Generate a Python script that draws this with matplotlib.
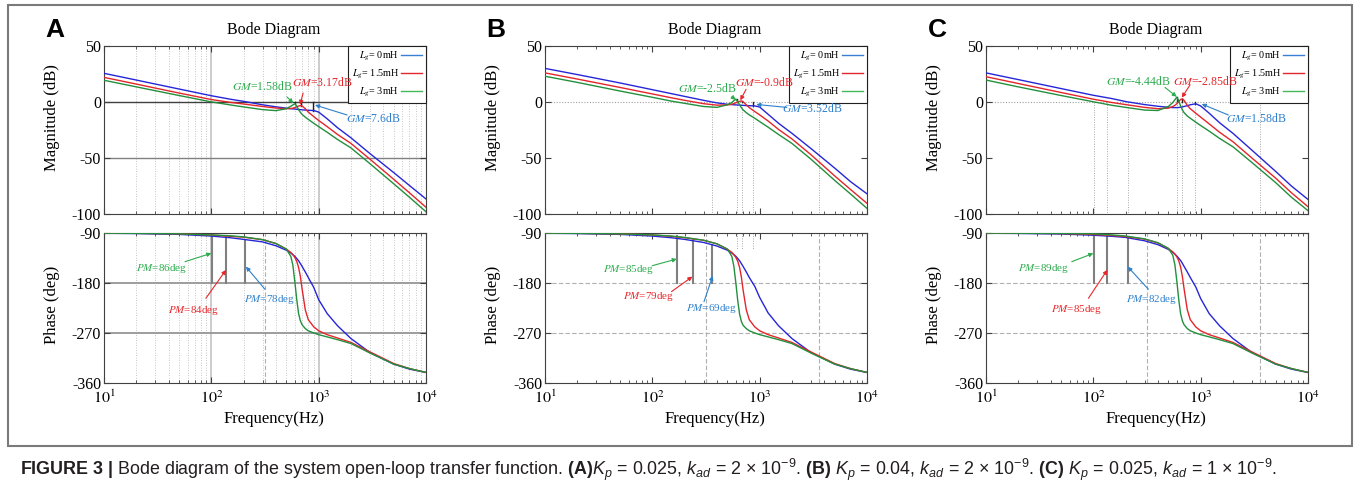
import matplotlib
matplotlib.use("Agg")
import matplotlib.pyplot as plt
from matplotlib.lines import Line2D
from matplotlib.patches import Rectangle
from matplotlib.font_manager import FontProperties

plt.rcParams["font.family"] = ["Liberation Serif", "DejaVu Serif"]
plt.rcParams["mathtext.fontset"] = "stix"
plt.rcParams["mathtext.rm"] = "Liberation Sans"
plt.rcParams["mathtext.it"] = "Liberation Sans:italic"
plt.rcParams["mathtext.bf"] = "Liberation Sans:bold"

# ---- data ----------------------------------------------------------------
series_labels = [r"$L_g$= 0mH", r"$L_g$= 1.5mH", r"$L_g$= 3mH"]

freq = [10, 20, 50, 100, 150, 200, 300, 400, 500, 550, 575, 600, 625, 650,
        675, 700, 750, 800, 900, 1000, 1200, 1500, 2000, 3000, 5000, 7000, 10000]

# panel A: Kp = 0.025, kad = 2e-9
mag_A_0 = [25.6, 19.6, 11.6, 5.6, 2.5, 0.6, -2.5, -4.3, -5.5, -6.0, -6.1, -6.3, -6.5, -6.7,
           -6.8, -7.0, -7.2, -7.4, -7.6, -9.0, -15.0, -23.0, -32.0, -46.0, -63.0, -74.5, -86.6]
mag_A_15 = [22.0, 16.0, 8.0, 2.2, -0.3, -1.8, -4.0, -5.4, -6.0, -5.8, -5.5, -5.0, -4.3, -3.6,
            -3.2, -3.5, -6.0, -9.0, -13.0, -16.5, -22.0, -29.0, -37.0, -51.0, -69.0, -81.0, -94.0]
mag_A_3 = [19.4, 13.5, 5.8, 0.1, -2.6, -4.4, -6.8, -7.7, -6.0, -3.8, -2.6, -1.6, -3.8, -6.8,
           -9.2, -11.0, -13.5, -15.5, -19.0, -22.0, -27.0, -33.5, -41.0, -55.0, -73.0, -85.0, -98.0]
ph_A_0 = [-90.5, -91.0, -92.5, -95.5, -98.5, -101.5, -106.0, -113.0, -121.0, -126.0, -129.0, -132.0, -136.0, -140.0,
          -145.0, -150.0, -160.0, -170.0, -188.0, -210.0, -235.0, -257.0, -280.0, -305.0, -326.0, -335.0, -341.0]
ph_A_15 = [-90.3, -90.6, -91.5, -93.5, -96.0, -97.5, -102.0, -109.0, -119.0, -125.0, -129.0, -134.0, -141.0, -152.0,
           -168.0, -190.0, -228.0, -246.0, -259.0, -266.0, -273.0, -279.0, -287.0, -304.0, -325.0, -334.0, -341.0]
ph_A_3 = [-90.3, -90.6, -91.5, -93.5, -95.0, -97.0, -102.0, -109.0, -119.0, -132.0, -148.0, -178.0, -210.0, -235.0,
          -248.0, -255.0, -262.0, -266.0, -270.0, -273.0, -277.0, -282.0, -289.0, -306.0, -326.0, -334.0, -341.0]

# panel B: Kp = 0.04, kad = 2e-9
mag_B_0 = [30.0, 24.5, 17.0, 11.0, 7.5, 5.0, 1.5, -0.8, -2.0, -2.3, -2.5, -2.6, -2.7, -2.8,
           -2.9, -3.0, -3.2, -3.3, -3.5, -4.5, -11.0, -19.0, -28.0, -41.5, -59.0, -71.0, -82.0]
mag_B_15 = [26.0, 20.5, 13.0, 7.2, 3.8, 1.5, -1.5, -2.8, -2.6, -2.0, -1.4, -0.7, 0.0, 0.6,
            0.9, 0.3, -2.5, -5.0, -8.5, -11.5, -17.0, -24.5, -33.0, -47.0, -66.0, -78.0, -90.5]
mag_B_3 = [23.0, 17.5, 9.8, 4.2, 0.8, -1.2, -4.0, -4.8, -2.5, -0.5, 1.2, 2.5, 0.5, -2.5,
           -5.0, -7.0, -9.5, -11.5, -14.5, -17.5, -22.5, -29.0, -37.0, -51.0, -70.0, -82.0, -95.0]
ph_B_0 = [-90.5, -91.0, -92.5, -95.5, -98.5, -101.5, -107.0, -113.5, -121.0, -126.0, -129.0, -132.0, -136.0, -140.0,
          -145.0, -150.0, -160.0, -170.0, -186.0, -206.0, -234.0, -257.0, -280.0, -305.0, -326.0, -335.0, -341.0]
ph_B_15 = [-90.3, -90.6, -91.5, -93.5, -96.0, -98.5, -103.0, -109.5, -119.0, -125.0, -129.0, -134.0, -141.0, -152.0,
           -169.0, -192.0, -228.0, -246.0, -259.0, -266.0, -273.0, -279.0, -287.0, -304.0, -325.0, -334.0, -341.0]
ph_B_3 = [-90.3, -90.6, -91.5, -93.5, -95.5, -98.0, -103.0, -109.5, -119.0, -132.0, -150.0, -180.0, -212.0, -236.0,
          -249.0, -256.0, -262.0, -266.0, -270.0, -273.0, -277.0, -282.0, -289.0, -306.0, -326.0, -334.0, -341.0]

# panel C: Kp = 0.025, kad = 1e-9
mag_C_0 = [26.0, 20.0, 12.0, 6.0, 3.0, 0.4, -2.3, -3.8, -4.7, -5.0, -5.0, -5.0, -4.9, -4.7,
           -4.4, -4.0, -3.3, -2.5, -1.6, -3.5, -10.0, -18.5, -28.0, -43.0, -62.0, -75.0, -87.0]
mag_C_15 = [22.6, 16.5, 8.5, 2.5, -0.5, -2.3, -4.8, -6.0, -5.5, -4.0, -3.0, -1.5, 0.5, 2.2,
            2.85, 1.5, -3.0, -6.0, -10.0, -13.5, -19.5, -27.0, -35.5, -50.0, -68.0, -81.0, -93.5]
mag_C_3 = [19.6, 13.5, 5.8, 0.2, -3.0, -4.8, -7.2, -7.6, -4.0, -0.5, 2.0, 4.4, 1.0, -3.5,
           -7.0, -9.5, -12.5, -14.5, -18.0, -21.0, -26.0, -32.5, -40.0, -54.0, -72.0, -85.0, -97.0]
ph_C_0 = [-90.4, -90.8, -91.8, -94.0, -96.0, -98.0, -104.0, -111.0, -119.5, -125.0, -128.0, -131.5, -135.5, -139.5,
          -144.5, -150.0, -160.0, -170.0, -187.0, -208.0, -235.0, -257.0, -280.0, -305.0, -326.0, -335.0, -341.0]
ph_C_15 = [-90.2, -90.4, -91.0, -92.5, -94.5, -96.5, -101.0, -108.0, -118.0, -124.0, -128.0, -133.0, -140.0, -151.0,
           -168.0, -190.0, -228.0, -246.0, -259.0, -266.0, -273.0, -279.0, -287.0, -304.0, -325.0, -334.0, -341.0]
ph_C_3 = [-90.2, -90.4, -90.8, -91.5, -93.5, -95.5, -100.5, -107.5, -117.5, -130.0, -147.0, -177.0, -210.0, -235.0,
          -248.0, -255.0, -262.0, -266.0, -270.0, -273.0, -277.0, -282.0, -289.0, -306.0, -326.0, -334.0, -341.0]

# stability margins (0mH, 1.5mH, 3mH) and where they sit on the frequency axis
gm_A = [7.6, 3.17, 1.58]
pm_A = [78, 84, 86]
wc_A = [207, 137, 102]      # gain crossover (Hz)
wp_A = [880, 690, 600]      # phase crossover (Hz)
gm_B = [3.52, -0.9, -2.5]
pm_B = [69, 79, 85]
wc_B = [360, 238, 169]
wp_B = [870, 680, 612]
gm_C = [1.58, -2.85, -4.44]
pm_C = [82, 85, 89]
wc_C = [209, 135, 102]
wp_C = [890, 665, 607]

mag_ticks = [-100, -50, 0, 50]
ph_ticks = [-360, -270, -180, -90]
freq_ticks = [10, 100, 1000, 10000]
freq_ticklabels = [r"$10^{1}$", r"$10^{2}$", r"$10^{3}$", r"$10^{4}$"]

caption = (r"$\mathbf{FIGURE\ 3\ |}$ Bode diagram of the system open-loop transfer function. "
           r"$\mathbf{(A)}K_p$ = 0.025, $k_{ad}$ = 2 × 10$^{-9}$. "
           r"$\mathbf{(B)}$ $K_p$ = 0.04, $k_{ad}$ = 2 × 10$^{-9}$. "
           r"$\mathbf{(C)}$ $K_p$ = 0.025, $k_{ad}$ = 1 × 10$^{-9}$.")

# ---- styling ---------------------------------------------------------------
curve_colors = ["#2626d9", "#e3262b", "#22903c"]
legend_colors = ["#3a7fd6", "#e3262b", "#45b85a"]
note_colors = ["#2f80cc", "#e8262a", "#2eac4e"]

W, H = 1356, 492
fig = plt.figure(figsize=(W / 100, H / 100), dpi=100)


def px_axes(x0, y0, x1, y1):
    """Axes from pixel box (top-left origin)."""
    return fig.add_axes([x0 / W, 1 - y1 / H, (x1 - x0) / W, (y1 - y0) / H])


def style_axes(ax, yticks, ylim, show_x):
    ax.set_xscale("log")
    ax.set_xlim(10, 10000)
    ax.set_ylim(*ylim)
    ax.set_yticks(yticks, labels=[str(t) for t in yticks])
    if show_x:
        ax.set_xticks(freq_ticks, labels=freq_ticklabels)
    else:
        ax.set_xticks(freq_ticks, labels=[])
    ax.tick_params(which="both", direction="in", top=True, right=True,
                   labelsize=11.5, color="#404040", pad=2)
    ax.tick_params(axis="x", pad=5)
    ax.tick_params(which="major", length=4)
    ax.tick_params(which="minor", length=2.5)
    for s in ax.spines.values():
        s.set_color("#404040")
        s.set_linewidth(0.8)


minor_freqs = [m * 10 ** d for d in (1, 2, 3) for m in range(2, 10)]


def draw_panel(x0, letter, mags, phases, gm, pm, wc, wp, gm_notes, pm_notes, full_grid,
               mag_vlines, ph_dashed, ph_short):
    ax_m = px_axes(x0, 46, x0 + 322, 214)
    ax_p = px_axes(x0, 233, x0 + 322, 383)
    style_axes(ax_m, mag_ticks, (-100, 50), False)
    style_axes(ax_p, ph_ticks, (-360, -90), True)

    # grid work, MATLAB style
    if full_grid:
        for ax in (ax_m, ax_p):
            for f in minor_freqs:
                ax.axvline(f, color="#b5b5b5", lw=0.6, ls=(0, (1, 2)), zorder=0)
            for f in (100, 1000):
                ax.axvline(f, color="#c4c4c4", lw=1.2, zorder=0)
        ax_m.axhline(0, color="#404040", lw=1.0, zorder=1)
        ax_m.axhline(-50, color="#808080", lw=1.0, zorder=1)
        ax_p.axhline(-180, color="#959595", lw=1.3, zorder=1)
        ax_p.axhline(-270, color="#959595", lw=1.3, zorder=1)
    else:
        ax_m.axhline(0, color="#a0a0a0", lw=0.8, ls=(0, (1, 1.5)), zorder=1)
        for f in mag_vlines:
            ax_m.plot([f, f], [0, -100], color="#a8a8a8", lw=0.7, ls=(0, (1, 1.5)), zorder=0)
        for v in (-180, -270):
            ax_p.axhline(v, color="#b0b0b0", lw=0.8, ls=(0, (4, 2)), zorder=0)
        for f in ph_short:
            ax_p.plot([f, f], [-90, -120], color="#a8a8a8", lw=0.7, ls=(0, (1, 1.5)), zorder=0)
    for f in ph_dashed:
        ax_p.axvline(f, color="#b0b0b0", lw=0.8, ls=(0, (4, 2)), zorder=0)

    for i in range(3):
        ax_m.plot(freq, mags[i], color=curve_colors[i], lw=1.0, zorder=3)
        ax_p.plot(freq, phases[i], color=curve_colors[i], lw=1.0, zorder=3)
        # margin markers
        ax_m.plot([wp[i], wp[i]], [0, -gm[i]], color="#202020", lw=1.0, zorder=2)
        ax_p.plot([wc[i], wc[i]], [-180, -180 + pm[i]], color="#808080", lw=1.5, zorder=2)

    for i, (txt, tail, head) in enumerate(gm_notes):
        ax_m.text(*txt, r"$GM$=" + str(gm[i]) + "dB", color=note_colors[i], fontsize=8.5,
                  ha="center", va="center", math_fontfamily="stix", zorder=7)
        ax_m.annotate("", xy=head, xytext=tail,
                      arrowprops=dict(arrowstyle="-|>", color=note_colors[i], lw=0.8,
                                      mutation_scale=6, shrinkA=0, shrinkB=0), zorder=7)
    for i, (txt, tail, head) in enumerate(pm_notes):
        ax_p.text(*txt, r"$PM$=" + str(pm[i]) + "deg", color=note_colors[i], fontsize=7.9,
                  ha="center", va="center", math_fontfamily="stix", zorder=7)
        ax_p.annotate("", xy=head, xytext=tail,
                      arrowprops=dict(arrowstyle="-|>", color=note_colors[i], lw=0.8,
                                      mutation_scale=6, shrinkA=0, shrinkB=0), zorder=7)

    handles = [Line2D([], [], color=c, lw=1.0) for c in legend_colors]
    leg = ax_m.legend(handles, series_labels, loc="upper right", markerfirst=False,
                      fancybox=False, edgecolor="#202020", framealpha=1, borderaxespad=0,
                      handlelength=2.1, handletextpad=0.2, labelspacing=0.5,
                      borderpad=0.35,
                      prop=FontProperties(family="Liberation Serif", size=7.3,
                                          math_fontfamily="stix"))
    leg.get_frame().set_linewidth(0.8)
    leg.set_zorder(6)

    cx = x0 + 161 + 9
    fig.text(cx / W, 1 - 30 / H, "Bode Diagram", ha="center", va="center", fontsize=11.5)
    fig.text((x0 - 49) / W, 1 - 30 / H, letter, ha="center", va="center", fontsize=19,
             family="Liberation Sans", weight="bold")
    fig.text((x0 - 52) / W, 1 - 118 / H, "Magnitude (dB)", rotation=90,
             ha="center", va="center", fontsize=12)
    fig.text((x0 - 52) / W, 1 - 305 / H, "Phase (deg)", rotation=90,
             ha="center", va="center", fontsize=12)
    fig.text(cx / W, 1 - 419 / H, "Frequency(Hz)", ha="center", va="center", fontsize=12)


draw_panel(104, "A", [mag_A_0, mag_A_15, mag_A_3], [ph_A_0, ph_A_15, ph_A_3],
           gm_A, pm_A, wc_A, wp_A,
           [((3240, -14.3), (1840, -11.6), (925, -2.7)),
            ((1087, 17.0), (716, 8.0), (671, -2.5)),
            ((302, 13.4), (507, 4.5), (580, -1.0))],
           [((345, -210.5), (316, -191.3), (210, -150.6)),
            ((68.5, -229.7), (89, -207.5), (137, -156.5)),
            ((34.5, -153.5), (56.9, -141.6), (100, -126.5))],
           True, [], [316], [])

draw_panel(545, "B", [mag_B_0, mag_B_15, mag_B_3], [ph_B_0, ph_B_15, ph_B_3],
           gm_B, pm_B, wc_B, wp_B,
           [((3100, -5.6), (1790, -4.8), (930, -2.2)),
            ((1097, 17.2), (747, 11.3), (660, 1.5)),
            ((325, 12.2), (550, 4.7), (599, 2.0))],
           [((355, -225.5), (303, -213.6), (365, -167.0)),
            ((92, -204.5), (151, -195.5), (236, -168.5)),
            ((59.7, -156.5), (100, -148.8), (169, -136.8))],
           False, [357, 612, 680, 870, 3580], [316, 3580], [612, 680, 870])

draw_panel(986, "C", [mag_C_0, mag_C_15, mag_C_3], [ph_C_0, ph_C_15, ph_C_3],
           gm_C, pm_C, wc_C, wp_C,
           [((3275, -14.6), (1810, -11.6), (1023, -1.8)),
            ((1100, 18.1), (795, 15.2), (667, 3.9)),
            ((265, 18.1), (466, 13.0), (598, 4.7))],
           [((350, -210.5), (326, -191.3), (209, -150.6)),
            ((69.1, -228.4), (90, -207.5), (135, -156.5)),
            ((34.2, -153.5), (63, -141.6), (100, -126.6))],
           False, [102, 135, 209, 607, 665, 890, 3580], [316, 3580], [])

# outer frame around the three panels
fig.add_artist(Rectangle((8 / W, 1 - 446 / H), 1344 / W, 441 / H, transform=fig.transFigure,
                         fill=False, edgecolor="#7a7a7a", lw=1.5))

fig.text(20 / W, 1 - 470 / H, caption, ha="left", va="center", fontsize=12.9,
         family="Liberation Sans", color="#231f20", math_fontfamily="custom")

fig.savefig("out.png", dpi=100)
